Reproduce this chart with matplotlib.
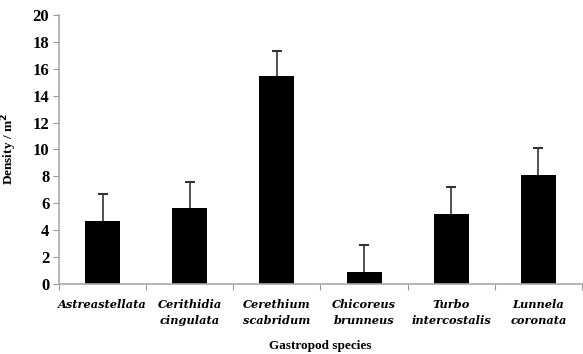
import matplotlib
matplotlib.use("Agg")
import matplotlib.pyplot as plt
import numpy as np

species = ["Astreastellata", "Cerithidia\ncingulata", "Cerethium\nscabridum",
           "Chicoreus\nbrunneus", "Turbo\nintercostalis", "Lunnela\ncoronata"]
density = [4.7, 5.65, 15.45, 0.9, 5.2, 8.1]
errors = [2.0, 1.95, 1.85, 2.0, 2.0, 2.0]
yticks = [0, 2, 4, 6, 8, 10, 12, 14, 16, 18, 20]

W, H = 583, 354
fig = plt.figure(figsize=(W/100, H/100), dpi=100)
ax = fig.add_axes([59/W, (H-284)/H, (582-59)/W, (284-15)/H])

x = np.arange(len(species))
eb = ax.errorbar(x, density, yerr=[np.zeros(len(errors)), errors], fmt="none",
                 ecolor="#333333", elinewidth=1.2, capsize=3.5, capthick=1.5, zorder=1)
caps = eb[1]
if len(caps) == 2:
    caps[0].set_visible(False)
ax.bar(x, density, width=0.4, color="black", zorder=2)

ax.set_xlim(-0.5, len(species) - 0.5)
ax.set_ylim(0, 20)
ax.set_yticks(yticks)
ax.set_yticklabels([str(v) for v in yticks], fontfamily="Liberation Serif",
                   fontweight="bold", fontsize=12)
ax.set_xticks(np.arange(len(species) + 1) - 0.5, minor=False)
ax.set_xticklabels([])
ax.set_xticks(x, minor=True)
ax.set_xticklabels(species, minor=True, fontfamily="DejaVu Serif", style="italic",
                   fontweight="bold", fontsize=8.2, linespacing=1.55)
ax.tick_params(axis="x", which="minor", length=0, pad=11)
ax.tick_params(axis="x", which="major", length=4, color="#999999", direction="out")
ax.tick_params(axis="y", length=4, color="#999999", direction="out", pad=3)

for s in ["top", "right"]:
    ax.spines[s].set_visible(False)
for s in ["left", "bottom"]:
    ax.spines[s].set_color("#aaaaaa")
    ax.spines[s].set_linewidth(1.2)

ax.set_ylabel("Density / m$^\\mathbf{2}$", fontfamily="Liberation Serif",
              fontweight="bold", fontsize=9.5, labelpad=10)
ax.set_xlabel("Gastropod species", fontfamily="Liberation Serif",
              fontweight="bold", fontsize=9.5, labelpad=10)

fig.savefig("out.png", dpi=100)
